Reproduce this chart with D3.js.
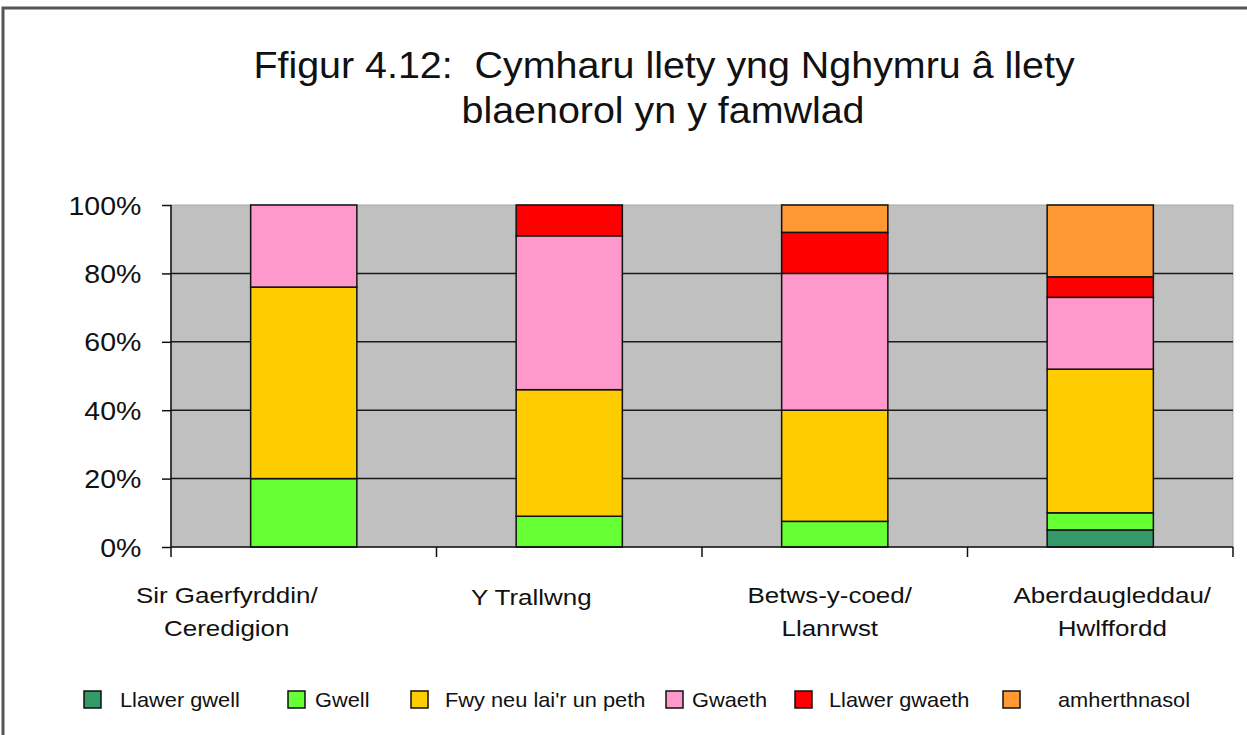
<!DOCTYPE html>
<html>
<head>
<meta charset="utf-8">
<script src="https://cdn.jsdelivr.net/npm/d3@7"></script>
<style>
  body { margin: 0; background: #fff; }
  svg text { font-family: "Liberation Sans", Arial, Helvetica, sans-serif; fill: #111; }
</style>
</head>
<body>
<svg id="chart" width="1247" height="735"></svg>
<script>
// categories (x axis), two lines each
var categories = ["Sir Gaerfyrddin/\nCeredigion", "Y Trallwng", "Betws-y-coed/\nLlanrwst", "Aberdaugleddau/\nHwlffordd"];

// series values, percent of each bar
var llawerGwell   = [0, 0, 0, 5];
var gwell         = [20, 9, 7.5, 5];
var fwyNeuLai     = [56, 37, 32.5, 42];
var gwaeth        = [24, 45, 40, 21];
var llawerGwaeth  = [0, 9, 12, 6];
var amherthnasol  = [0, 0, 8, 21];

var seriesNames  = ["Llawer gwell", "Gwell", "Fwy neu lai'r un peth", "Gwaeth", "Llawer gwaeth", "amherthnasol"];
var seriesColors = ["#339966", "#66FF33", "#FFCC00", "#FF99CC", "#FF0000", "#FF9933"];
var yTicks = [0, 20, 40, 60, 80, 100];

var titleLines = ["Ffigur 4.12:  Cymharu llety yng Nghymru \u00e2 llety", "blaenorol yn y famwlad"];

var svg = d3.select("#chart");
var font = '"Liberation Sans", Arial, Helvetica, sans-serif';

// text helper: horizontally widened text, as the original is a bit stretched
function addText(parent, x, y, str, size, anchor, sx) {
  var g = parent.append("g").attr("transform", "translate(" + x + "," + y + ") scale(" + sx + ",1)");
  g.append("text")
    .attr("text-anchor", anchor)
    .attr("font-size", size)
    .style("white-space", "pre")
    .text(str);
  return g;
}

// outer frame (runs off the right and bottom edges)
svg.append("rect")
  .attr("x", 3).attr("y", 8).attr("width", 1270).attr("height", 760)
  .attr("fill", "none").attr("stroke", "#555").attr("stroke-width", 3);

// title
addText(svg, 664, 78, titleLines[0], 36.5, "middle", 1.08);
addText(svg, 663, 123, titleLines[1], 36.5, "middle", 1.08);

var plot = {left: 171, right: 1233, top: 205, bottom: 547};

var x = d3.scaleBand()
  .domain(categories)
  .range([plot.left, plot.right])
  .paddingInner(0.6)
  .paddingOuter(0.3);

var y = d3.scaleLinear().domain([0, 100]).range([plot.bottom, plot.top]);

// plot background
svg.append("rect")
  .attr("x", plot.left).attr("y", plot.top)
  .attr("width", plot.right - plot.left).attr("height", plot.bottom - plot.top)
  .attr("fill", "#C0C0C0").attr("stroke", "#a8a8a8").attr("stroke-width", 1);

// gridlines
svg.append("g").selectAll("line")
  .data(yTicks.filter(function(d) { return d > 0 && d < 100; }))
  .enter().append("line")
  .attr("x1", plot.left).attr("x2", plot.right)
  .attr("y1", function(d) { return y(d); }).attr("y2", function(d) { return y(d); })
  .attr("stroke", "#1a1a1a").attr("stroke-width", 1.5);

// stacked bars
var rows = categories.map(function(c, i) {
  return {cat: c, s0: llawerGwell[i], s1: gwell[i], s2: fwyNeuLai[i], s3: gwaeth[i], s4: llawerGwaeth[i], s5: amherthnasol[i]};
});
var keys = ["s0", "s1", "s2", "s3", "s4", "s5"];
var stacked = d3.stack().keys(keys)(rows);

svg.append("g").selectAll("g")
  .data(stacked)
  .enter().append("g")
    .attr("fill", function(d, i) { return seriesColors[i]; })
  .selectAll("rect")
  .data(function(d) { return d.filter(function(p) { return p[1] - p[0] > 0; }); })
  .enter().append("rect")
    .attr("x", function(d) { return x(d.data.cat); })
    .attr("width", x.bandwidth())
    .attr("y", function(d) { return y(d[1]); })
    .attr("height", function(d) { return y(d[0]) - y(d[1]); })
    .attr("stroke", "#111").attr("stroke-width", 1.5);

// y axis
var yAxis = svg.append("g")
  .attr("transform", "translate(" + plot.left + ",0)")
  .call(d3.axisLeft(y).tickValues(yTicks).tickSize(9).tickSizeOuter(0).tickFormat(function(d) { return d + "%"; }));
yAxis.select(".domain").attr("stroke", "#111").attr("stroke-width", 1.5).attr("d", "M0," + plot.top + "V" + (plot.bottom + 10));
yAxis.selectAll(".tick line").attr("stroke", "#111").attr("stroke-width", 1.5);
yAxis.selectAll(".tick text")
  .attr("x", -26).attr("dy", "0.36em")
  .attr("font-size", 25)
  .attr("font-family", font)
  .attr("fill", "#111")
  .attr("transform", "scale(1.14,1)");

// x axis with ticks between categories
var step = x.step();
var bounds = categories.map(function(c) { return x(c) + x.bandwidth() / 2 + step / 2; });
var xAxis = svg.append("g");
xAxis.append("line")
  .attr("x1", plot.left).attr("x2", plot.right)
  .attr("y1", plot.bottom).attr("y2", plot.bottom)
  .attr("stroke", "#111").attr("stroke-width", 1.5);
xAxis.selectAll("line.tk")
  .data(bounds)
  .enter().append("line").attr("class", "tk")
  .attr("x1", function(d) { return d; }).attr("x2", function(d) { return d; })
  .attr("y1", plot.bottom).attr("y2", plot.bottom + 10)
  .attr("stroke", "#111").attr("stroke-width", 1.5);

// category labels (Excel puts them a bit off centre)
var labelShift = [-77, -38, -5, 12];
categories.forEach(function(c, i) {
  var cx = x(c) + x.bandwidth() / 2 + labelShift[i];
  var parts = c.split("\n");
  if (parts.length == 1) {
    addText(svg, cx, 605, parts[0], 22, "middle", 1.18);
  } else {
    addText(svg, cx, 603, parts[0], 22, "middle", 1.18);
    addText(svg, cx, 636, parts[1], 22, "middle", 1.18);
  }
});

// legend
var legendSwatchX = [84, 288, 411, 666, 795, 1003];
var legendTextX   = [120, 315, 445, 692, 829, 1058];
var legend = svg.append("g");
seriesNames.forEach(function(name, i) {
  legend.append("rect")
    .attr("x", legendSwatchX[i]).attr("y", 691)
    .attr("width", 17).attr("height", 17)
    .attr("fill", seriesColors[i]).attr("stroke", "#111").attr("stroke-width", 1.5);
  addText(legend, legendTextX[i], 707, name, 20, "start", 1.09);
});
</script>
</body>
</html>
